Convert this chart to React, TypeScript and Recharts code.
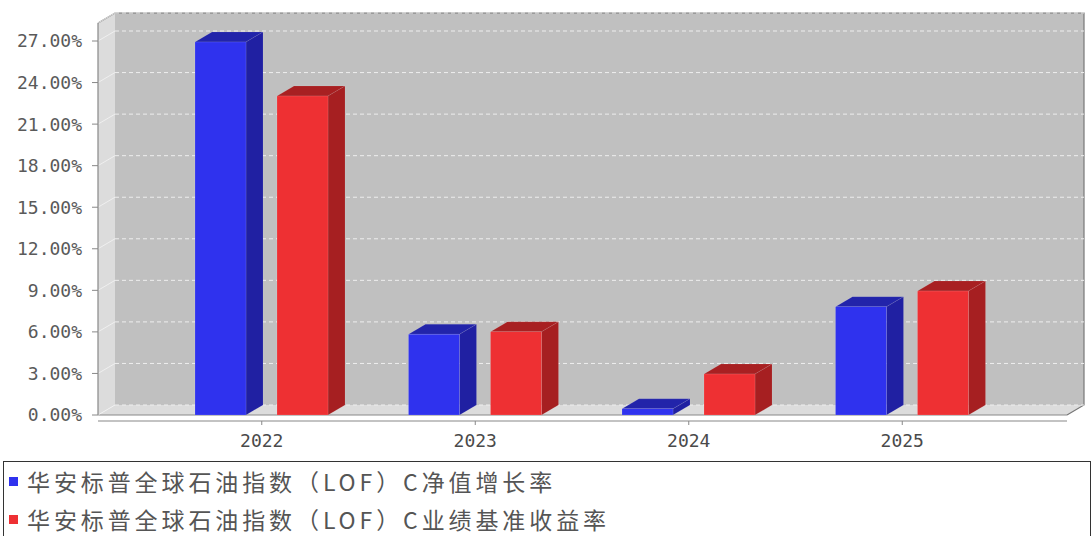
import React from 'react';
import { Bar, BarChart, CartesianGrid, XAxis, YAxis } from 'recharts';

const YEARS = ['2022', '2023', '2024', '2025'];
const NAV_GROWTH = [26.93, 5.83, 0.45, 7.82];
const BENCHMARK = [23.03, 6.01, 2.96, 8.95];
const Y_TICKS = [0, 3, 6, 9, 12, 15, 18, 21, 24, 27];
const SERIES_NAMES = [
  '华安标普全球石油指数（LOF）C净值增长率',
  '华安标普全球石油指数（LOF）C业绩基准收益率',
];

const data = YEARS.map((year, i) => ({ year, nav: NAV_GROWTH[i], bench: BENCHMARK[i] }));

const W = 1091;
const H = 460;
const DX = 17;
const DY = 10;
// plot area, from margins below
const L = 98;
const R = 1067;
const T = 23;
const B = 415;

const BLUE = { front: '#2f32ee', side: '#2020a2', top: '#2224aa' };
const RED = { front: '#ee3033', side: '#a61f21', top: '#a82022' };

const AXIS = '#888888';
const MONO = '"DejaVu Sans Mono", monospace';

function make3D(c: { front: string; side: string; top: string }) {
  return (props: any) => {
    const { x, y, width: w, height: h } = props;
    if (w == null || h == null) return <g />;
    return (
      <g>
        <polygon
          points={`${x},${y} ${x + DX},${y - DY} ${x + w + DX},${y - DY} ${x + w},${y}`}
          fill={c.top}
          stroke="rgba(255,255,255,0.15)"
          strokeWidth={0.6}
        />
        <polygon
          points={`${x + w},${y} ${x + w + DX},${y - DY} ${x + w + DX},${y + h - DY} ${x + w},${y + h}`}
          fill={c.side}
          stroke="rgba(255,255,255,0.15)"
          strokeWidth={0.6}
        />
        <rect x={x} y={y} width={w} height={h} fill={c.front} stroke="rgba(255,255,255,0.2)" strokeWidth={0.6} />
      </g>
    );
  };
}

const BlueBar = make3D(BLUE);
const RedBar = make3D(RED);

function GridLine(props: any) {
  const { x1, x2, y1, index } = props;
  return (
    <g key={`gl-${index}`}>
      <line x1={x1} y1={y1} x2={x1 + DX} y2={y1 - DY} stroke="#f4f4f4" strokeWidth={0.8} />
      <line
        x1={x1 + DX}
        y1={y1 - DY}
        x2={x2 + DX}
        y2={y1 - DY}
        stroke="#eeeeee"
        strokeWidth={1}
        strokeDasharray="4 3"
      />
    </g>
  );
}

function XTick(props: any) {
  const { x, payload } = props;
  return (
    <g>
      <line x1={x} x2={x} y1={421} y2={425} stroke={AXIS} />
      <text x={x} y={447} textAnchor="middle" fontSize={18} fontFamily={MONO} fill="#4a4a4a">
        {payload.value}
      </text>
    </g>
  );
}

function Backdrop() {
  return (
    <svg width={W} height={H} style={{ position: 'absolute', left: 0, top: 0 }}>
      <rect x={L + DX} y={T - DY} width={R - L} height={B - T} fill="#c0c0c0" />
      <polygon points={`${L},${T} ${L + DX},${T - DY} ${L + DX},${B - DY} ${L},${B}`} fill="#dcdcdc" />
      <polygon points={`${L},${B} ${L + DX},${B - DY} ${R + DX},${B - DY} ${R},${B}`} fill="#dcdcdc" />
      <polyline
        points={`${L},${T} ${L + DX},${T - DY} ${R + DX},${T - DY} ${R + DX},${B - DY} ${R},${B}`}
        fill="none"
        stroke="#777"
        strokeWidth={1.2}
      />
      <line x1={L} y1={B} x2={R} y2={B} stroke={AXIS} strokeWidth={1.2} />
      <line x1={L} y1={421} x2={R} y2={421} stroke={AXIS} strokeWidth={1.2} />
    </svg>
  );
}

export default function App() {
  return (
    <div
      style={{
        position: 'absolute',
        left: 0,
        top: 0,
        width: W,
        height: 536,
        background: '#fff',
        overflow: 'hidden',
      }}
    >
      <div style={{ position: 'relative', width: W, height: H }}>
        <Backdrop />
        <div style={{ position: 'absolute', left: 0, top: 0 }}>
          <BarChart
            width={W}
            height={H}
            data={data}
            margin={{ top: T, right: W - R, bottom: 0, left: 0 }}
            barSize={51}
            barGap={31}
          >
            <CartesianGrid vertical={false} horizontal={GridLine} fill="none" />
            <XAxis
              dataKey="year"
              height={H - B}
              axisLine={false}
              tickLine={false}
              tick={XTick}
              padding={{ left: 57, right: 58 }}
            />
            <YAxis
              width={L}
              domain={[0, 28.3]}
              ticks={Y_TICKS}
              allowDataOverflow
              axisLine={{ stroke: AXIS, strokeWidth: 1.2 }}
              tickLine={{ stroke: AXIS }}
              tickSize={6}
              tickMargin={10}
              tick={{ fill: '#5a5a5a', fontSize: 18, fontFamily: MONO }}
              tickFormatter={(v) => `${Number(v).toFixed(2)}%`}
            />
            <Bar dataKey="nav" name={SERIES_NAMES[0]} fill={BLUE.front} shape={BlueBar} isAnimationActive={false} />
            <Bar dataKey="bench" name={SERIES_NAMES[1]} fill={RED.front} shape={RedBar} isAnimationActive={false} />
          </BarChart>
        </div>
      </div>
      <div
        style={{
          position: 'absolute',
          left: 3,
          top: 461,
          width: 1086,
          height: 74,
          border: '1px solid #333',
          borderBottom: 'none',
          fontFamily: '"Noto Sans CJK SC", sans-serif',
          fontSize: 23,
          letterSpacing: 3.9,
          color: '#555',
        }}
      >
        {SERIES_NAMES.map((name, i) => (
          <div
            key={name}
            style={{
              position: 'absolute',
              left: 5,
              top: 6 + i * 38,
              height: 26,
              lineHeight: '26px',
              display: 'flex',
              alignItems: 'center',
              whiteSpace: 'nowrap',
            }}
          >
            <span
              style={{
                display: 'inline-block',
                width: 9,
                height: 9,
                background: i === 0 ? BLUE.front : RED.front,
                marginRight: 9,
              }}
            />
            <span style={{ lineHeight: 1 }}>{name}</span>
          </div>
        ))}
      </div>
    </div>
  );
}
